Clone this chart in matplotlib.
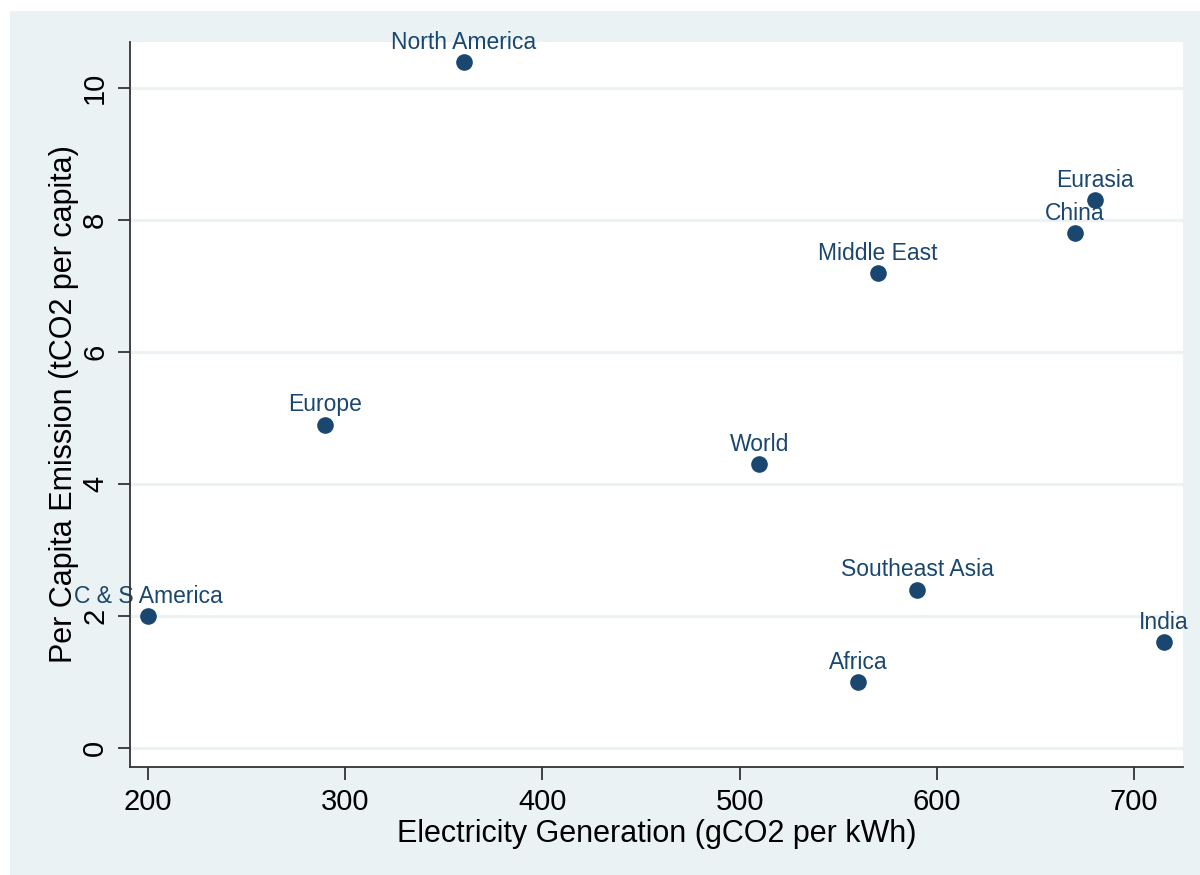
import matplotlib.pyplot as plt
from matplotlib.patches import Rectangle

regions = ['C & S America', 'Europe', 'North America', 'World', 'Middle East',
           'China', 'Eurasia', 'Southeast Asia', 'Africa', 'India']
elec_gco2 = [200, 290, 360, 510, 570, 670, 680, 590, 560, 715]
per_capita = [2.0, 4.9, 10.4, 4.3, 7.2, 7.8, 8.3, 2.4, 1.0, 1.6]

x_ticks = [200, 300, 400, 500, 600, 700]
y_ticks = [0, 2, 4, 6, 8, 10]

navy = '#1a476f'
bg = '#eaf2f3'

plt.rcParams['font.family'] = ['Liberation Sans', 'DejaVu Sans']

fig = plt.figure(figsize=(12, 8.75), dpi=100, facecolor='white')
# Stata-style outer region with a thin white margin on the left and top
fig.patches.append(Rectangle((10 / 1200, 0), 1, 1 - 11 / 875,
                             transform=fig.transFigure, facecolor=bg,
                             edgecolor='none', zorder=-10))

ax = fig.add_axes([130 / 1200, 1 - 767 / 875, (1183 - 130) / 1200, (767 - 42) / 875])
ax.set_facecolor('white')

ax.scatter(elec_gco2, per_capita, s=120, color=navy, zorder=3, clip_on=False)
for name, x, y in zip(regions, elec_gco2, per_capita):
    ax.annotate(name, (x, y), xytext=(0, 9.5), textcoords='offset points',
                ha='center', va='baseline', color=navy, fontsize=16.5,
                annotation_clip=False, zorder=2)

ax.set_xlim(190.9, 724.8)
ax.set_ylim(-0.29, 10.70)
ax.set_xticks(x_ticks)
ax.set_yticks(y_ticks)
ax.set_yticklabels([str(t) for t in y_ticks], rotation=90, va='center')
ax.grid(axis='y', color=bg, linewidth=2.2, zorder=0)
ax.set_axisbelow(True)

for side in ['top', 'right']:
    ax.spines[side].set_visible(False)
for side in ['left', 'bottom']:
    ax.spines[side].set_color('#333333')
    ax.spines[side].set_linewidth(1.3)

ax.tick_params(axis='both', length=9, width=1.3, color='#333333',
               labelsize=21, pad=6)

ax.set_xlabel('Electricity Generation (gCO2 per kWh)', fontsize=22, labelpad=2)
ax.set_ylabel('Per Capita Emission (tCO2 per capita)', fontsize=22, labelpad=1.5)

fig.savefig('out.png', dpi=100, facecolor=fig.get_facecolor())
